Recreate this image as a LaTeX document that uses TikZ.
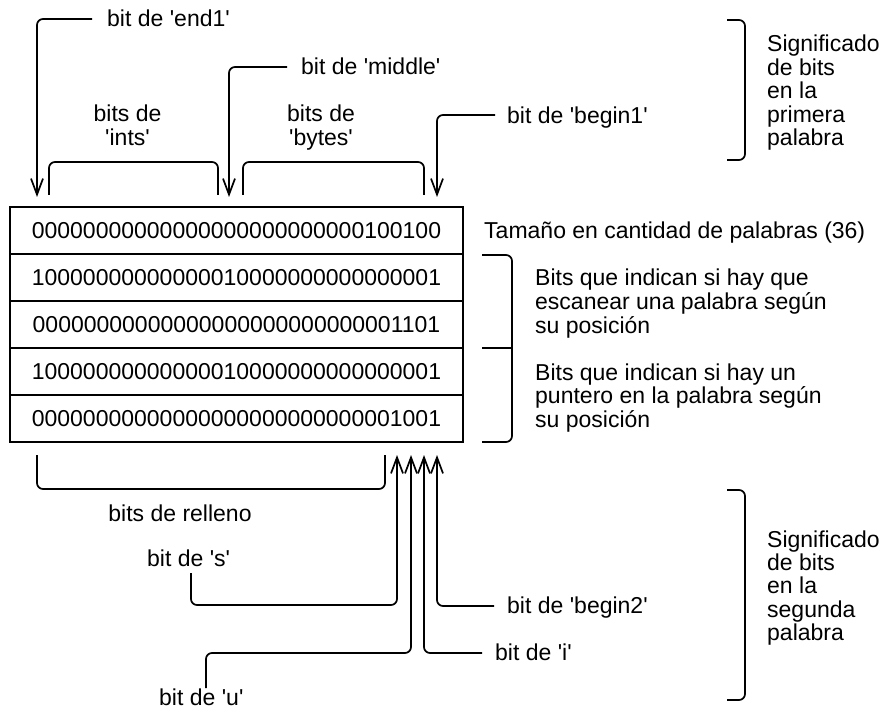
\documentclass[tikz,border=0pt]{standalone}
\usepackage{fontspec}
\setmainfont{Liberation Sans}[Ligatures=TeXOff]
\usetikzlibrary{arrows.meta}
\newcommand\lblfont{\fontsize{23}{22.5}\selectfont}
\tikzset{
  lbl/.style={inner sep=0pt, anchor=base west, font=\lblfont},
  clbl/.style={inner sep=0pt, anchor=base, font=\lblfont},
  wire/.style={line width=1.7pt, rounded corners=6pt},
  arr/.style={wire, -{Straight Barb[length=16pt,width=12pt]}},
  row/.style={draw, line width=1.7pt, minimum width=453pt, minimum height=47pt, inner sep=0pt, font=\lblfont}
}
\begin{document}
\begin{tikzpicture}[x=1pt,y=-1pt]
\useasboundingbox (0,0) rectangle (883,711);
% rows
\node[row] (r1) at (236.5,230.5) {00000000000000000000000000100100};
\node[row] (r2) at (236.5,277.5) {10000000000000010000000000000001};
\node[row] (r3) at (236.5,324.5) {00000000000000000000000000001101};
\node[row] (r4) at (236.5,371.5) {10000000000000010000000000000001};
\node[row] (r5) at (236.5,418.5) {00000000000000000000000000001001};
% top labels
\node[lbl] (e1) at (107,27) {bit de 'end1'};
\node[lbl] (mid) at (301,75) {bit de 'middle'};
\node[lbl] (b1) at (507,124) {bit de 'begin1'};
\node[clbl] (intsl) at (127.5,122) {\begin{tabular}[t]{@{}c@{}}bits de\\'ints'\end{tabular}};
\node[clbl] (bytesl) at (321,122) {\begin{tabular}[t]{@{}c@{}}bits de\\'bytes'\end{tabular}};
\node[lbl] (sig1) at (767,52) {\begin{tabular}[t]{@{}l@{}}Significado\\de bits\\en la\\primera\\palabra\end{tabular}};
% right of rows
\node[lbl] (tam) at (484,239) {Tamaño en cantidad de palabras (36)};
\node[lbl] (scan) at (535,286) {\begin{tabular}[t]{@{}l@{}}Bits que indican si hay que\\escanear una palabra según\\su posición\end{tabular}};
\node[lbl] (punt) at (535,380) {\begin{tabular}[t]{@{}l@{}}Bits que indican si hay un\\puntero en la palabra según\\su posición\end{tabular}};
% bottom labels
\node[clbl] (rell) at (180,521) {bits de relleno};
\node[lbl] (ls) at (147,566) {bit de 's'};
\node[lbl] (lu) at (159,705) {bit de 'u'};
\node[lbl] (lb2) at (507,613) {bit de 'begin2'};
\node[lbl] (li) at (495,660) {bit de 'i'};
\node[lbl] (sig2) at (767,547) {\begin{tabular}[t]{@{}l@{}}Significado\\de bits\\en la\\segunda\\palabra\end{tabular}};
% arrow tips
\coordinate (tE1) at (37,197);
\coordinate (tMid) at (229,197);
\coordinate (tB1) at (437,197);
\coordinate (tS) at (397,455);
\coordinate (tU) at (411,455);
\coordinate (tI) at (424,455);
\coordinate (tB2) at (437,455);
% top arrows
\draw[arr] ([shift={(-15,-8)}]e1.base west) -| (tE1);
\draw[arr] ([shift={(-14,-8)}]mid.base west) -| (tMid);
\draw[arr] ([shift={(-12,-9)}]b1.base west) -| (tB1);
% bottom arrows
\draw[arr] ([shift={(44,7)}]ls.base west) |- ([shift={(0,150)}]tS) -- (tS);
\draw[arr] ([shift={(47,-17)}]lu.base west) |- ([shift={(0,198)}]tU) -- (tU);
\draw[arr] ([shift={(-13,-7)}]li.base west) -| (tI);
\draw[arr] ([shift={(-13,-7)}]lb2.base west) -| (tB2);
% braces
\draw[wire] (49,195) -- (49,162) -- (218,162) -- (218,195);
\draw[wire] (243,195) -- (243,162) -- (424,162) -- (424,195);
\draw[wire] (727,20) -- (745,20) -- (745,160) -- (727,160);
\draw[wire] (482,255) -- (512,255) -- (512,442) -- (482,442);
\draw[line width=1.7pt] (482,348) -- (512,348);
\draw[wire] (37,455) -- (37,489) -- (385,489) -- (385,455);
\draw[wire] (727,490) -- (745,490) -- (745,700) -- (727,700);
\end{tikzpicture}
\end{document}
